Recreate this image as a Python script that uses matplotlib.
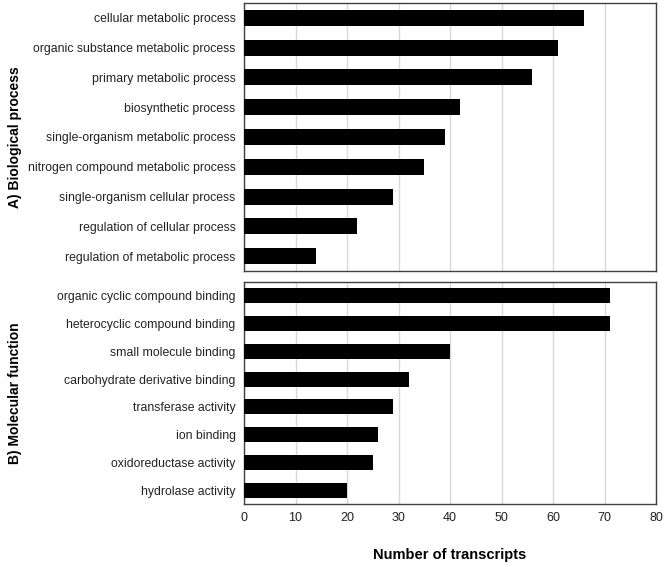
import matplotlib.pyplot as plt

plt.rcParams["font.family"] = ["Liberation Sans", "DejaVu Sans"]

bp_terms = [
    "cellular metabolic process",
    "organic substance metabolic process",
    "primary metabolic process",
    "biosynthetic process",
    "single-organism metabolic process",
    "nitrogen compound metabolic process",
    "single-organism cellular process",
    "regulation of cellular process",
    "regulation of metabolic process",
]
bp_counts = [66, 61, 56, 42, 39, 35, 29, 22, 14]

mf_terms = [
    "organic cyclic compound binding",
    "heterocyclic compound binding",
    "small molecule binding",
    "carbohydrate derivative binding",
    "transferase activity",
    "ion binding",
    "oxidoreductase activity",
    "hydrolase activity",
]
mf_counts = [71, 71, 40, 32, 29, 26, 25, 20]

x_ticks = [0, 10, 20, 30, 40, 50, 60, 70, 80]


def draw_panel(ax, terms, counts, label, show_x):
    pos = list(range(len(terms)))
    ax.barh(pos, counts, height=0.54, color="black", zorder=3)
    ax.set_yticks(pos)
    ax.set_yticklabels(terms, fontsize=8.8, color="#222222")
    ax.set_ylim(len(terms) - 0.5, -0.5)
    ax.set_xlim(0, 80)
    ax.set_xticks(x_ticks)
    ax.grid(axis="x", color="#d9d9d9", linewidth=1, zorder=0)
    ax.tick_params(axis="both", length=0, pad=6)
    for spine in ax.spines.values():
        spine.set_color("#404040")
        spine.set_linewidth(1)
    if show_x:
        ax.set_xticklabels([str(t) for t in x_ticks], fontsize=9, color="#222222")
    else:
        ax.set_xticklabels([])
    ax.set_ylabel(label, fontsize=10, fontweight="bold")
    ax.yaxis.set_label_coords(-0.54, 0.5)


fig = plt.figure(figsize=(6.66, 5.67), dpi=100)
ax_top = fig.add_axes([244 / 666, 1 - 271 / 567, 412 / 666, 268 / 567])
ax_bot = fig.add_axes([244 / 666, 1 - 504 / 567, 412 / 666, 222 / 567])

draw_panel(ax_top, bp_terms, bp_counts, "A) Biological process", False)
draw_panel(ax_bot, mf_terms, mf_counts, "B) Molecular function", True)

ax_bot.set_xlabel("Number of transcripts", fontsize=10.5, fontweight="bold", labelpad=17)

fig.savefig("out.png", dpi=100)
